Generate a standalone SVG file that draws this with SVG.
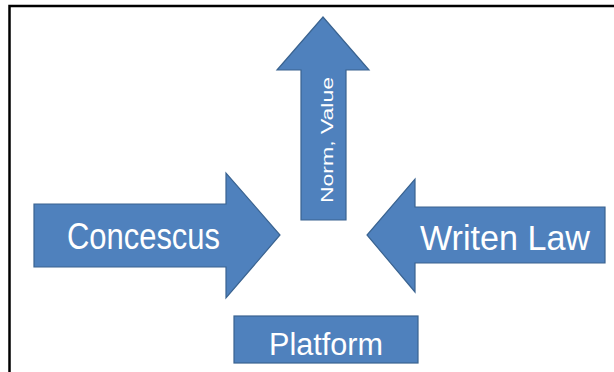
<svg xmlns="http://www.w3.org/2000/svg" width="614" height="372" viewBox="0 0 614 372">
<style>
.shape{fill:#4F81BD;stroke:#3A6390;stroke-width:1.2}
.lbl{fill:#FFFFFF;font-family:"Liberation Sans",Arial,sans-serif;text-anchor:middle}
</style>
<rect width="614" height="372" fill="#FFFFFF"/>
<path d="M9.5,372 V6 H614" fill="none" stroke="#000000" stroke-width="2.5"/>
<g id="norm-value">
<path class="shape" d="M301,220 V70 H277 L323,17 L369,70 H346 V220 Z"/>
<text class="lbl" x="140" y="0" font-size="17" textLength="126" lengthAdjust="spacingAndGlyphs" transform="translate(333,0) rotate(-90) translate(-280,0)">Norm, Value</text>
</g>
<g id="concescus">
<path class="shape" d="M34,204 H226 V173 L280,235 L226,298 V267 H34 Z"/>
<text class="lbl" x="143.5" y="249" font-size="36" textLength="153" lengthAdjust="spacingAndGlyphs">Concescus</text>
</g>
<g id="writen-law">
<path class="shape" d="M605,207 H415 V179 L367,235 L415,292 V263 H605 Z"/>
<text class="lbl" x="505" y="250" font-size="35" textLength="170" lengthAdjust="spacingAndGlyphs">Writen Law</text>
</g>
<g id="platform">
<rect class="shape" x="234" y="316" width="184" height="47"/>
<text class="lbl" x="326" y="355" font-size="31" textLength="114" lengthAdjust="spacingAndGlyphs">Platform</text>
</g>
<g id="connectors"/>
</svg>
